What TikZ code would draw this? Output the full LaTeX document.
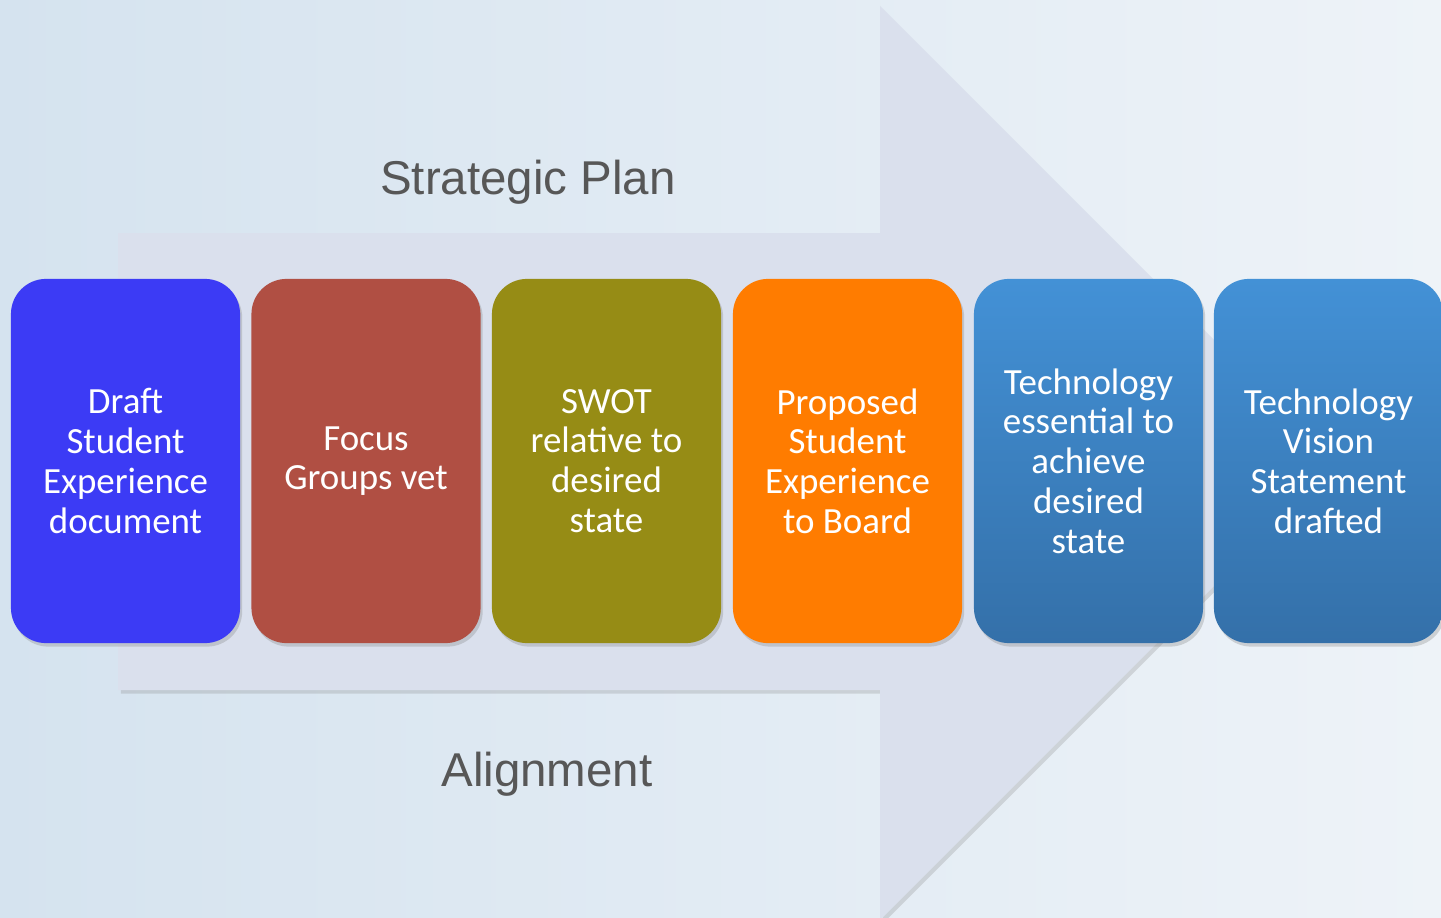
\documentclass[tikz,border=0pt]{standalone}
\usepackage{xcolor}
\usepackage{fontspec}
\setmainfont{Carlito}
\newfontfamily\titlefont{Liberation Sans}
\usetikzlibrary{shadows}

\definecolor{bgleft}{HTML}{D5E3EF}
\definecolor{bgright}{HTML}{EEF3F8}
\definecolor{arrowfill}{HTML}{DAE0ED}
\definecolor{draftblue}{HTML}{3C3BF5}
\definecolor{focusred}{HTML}{B04F43}
\definecolor{swotolive}{HTML}{968C15}
\definecolor{boardorange}{HTML}{FF7C00}
\definecolor{techtop}{HTML}{4391D6}
\definecolor{techbottom}{HTML}{3470A9}
\definecolor{titlegray}{HTML}{575757}

\begin{document}
\begin{tikzpicture}[x=0.01cm, y=-0.01cm]
			\tikzstyle{title} = [font=\titlefont\fontsize{13.5}{16}\selectfont, text=titlegray]
			\tikzstyle{stage} = [rounded corners=10pt, minimum width=2.29cm, minimum height=3.64cm, align=center, text=white, font=\fontsize{10.5}{11.3}\selectfont, drop shadow={shadow xshift=0.6pt, shadow yshift=-1pt, opacity=0.3}]
			\tikzset{tech/.style = {stage, top color=techtop, bottom color=techbottom}}
			
			\useasboundingbox (0,0) rectangle (1441,918);
			\clip (0,0) rectangle (1441,918);
			\fill[left color=bgleft, right color=bgright] (0,0) rectangle (1441,918);
			
			% big arrow behind the stages
			\fill[arrowfill, drop shadow={shadow xshift=0.8pt, shadow yshift=-1pt, opacity=0.25}]
				(118,233) -- (880,233) -- (880,6) -- (1337,463) -- (880,920) -- (880,690) -- (118,690) -- cycle;
			
			\node[title](plan) at (528,182) {Strategic Plan};
			\node[title](align) at (547,774) {Alignment};
			
			\node[stage, fill=draftblue](draft) at (125.5,461) {Draft\\Student\\Experience\\document};
			\node[stage, fill=focusred](focus) at (366,461) {Focus\\Groups vet};
			\node[stage, fill=swotolive](swot) at (606.5,461) {SWOT\\relative to\\desired\\state};
			\node[stage, fill=boardorange](board) at (847.5,461) {Proposed\\Student\\Experience\\to Board};
			\node[tech](essential) at (1088.5,461) {Technology\\essential to\\achieve\\desired\\state};
			\node[tech](vision) at (1328.5,461) {Technology\\Vision\\Statement\\drafted};
			
			\end{tikzpicture}
\end{document}
